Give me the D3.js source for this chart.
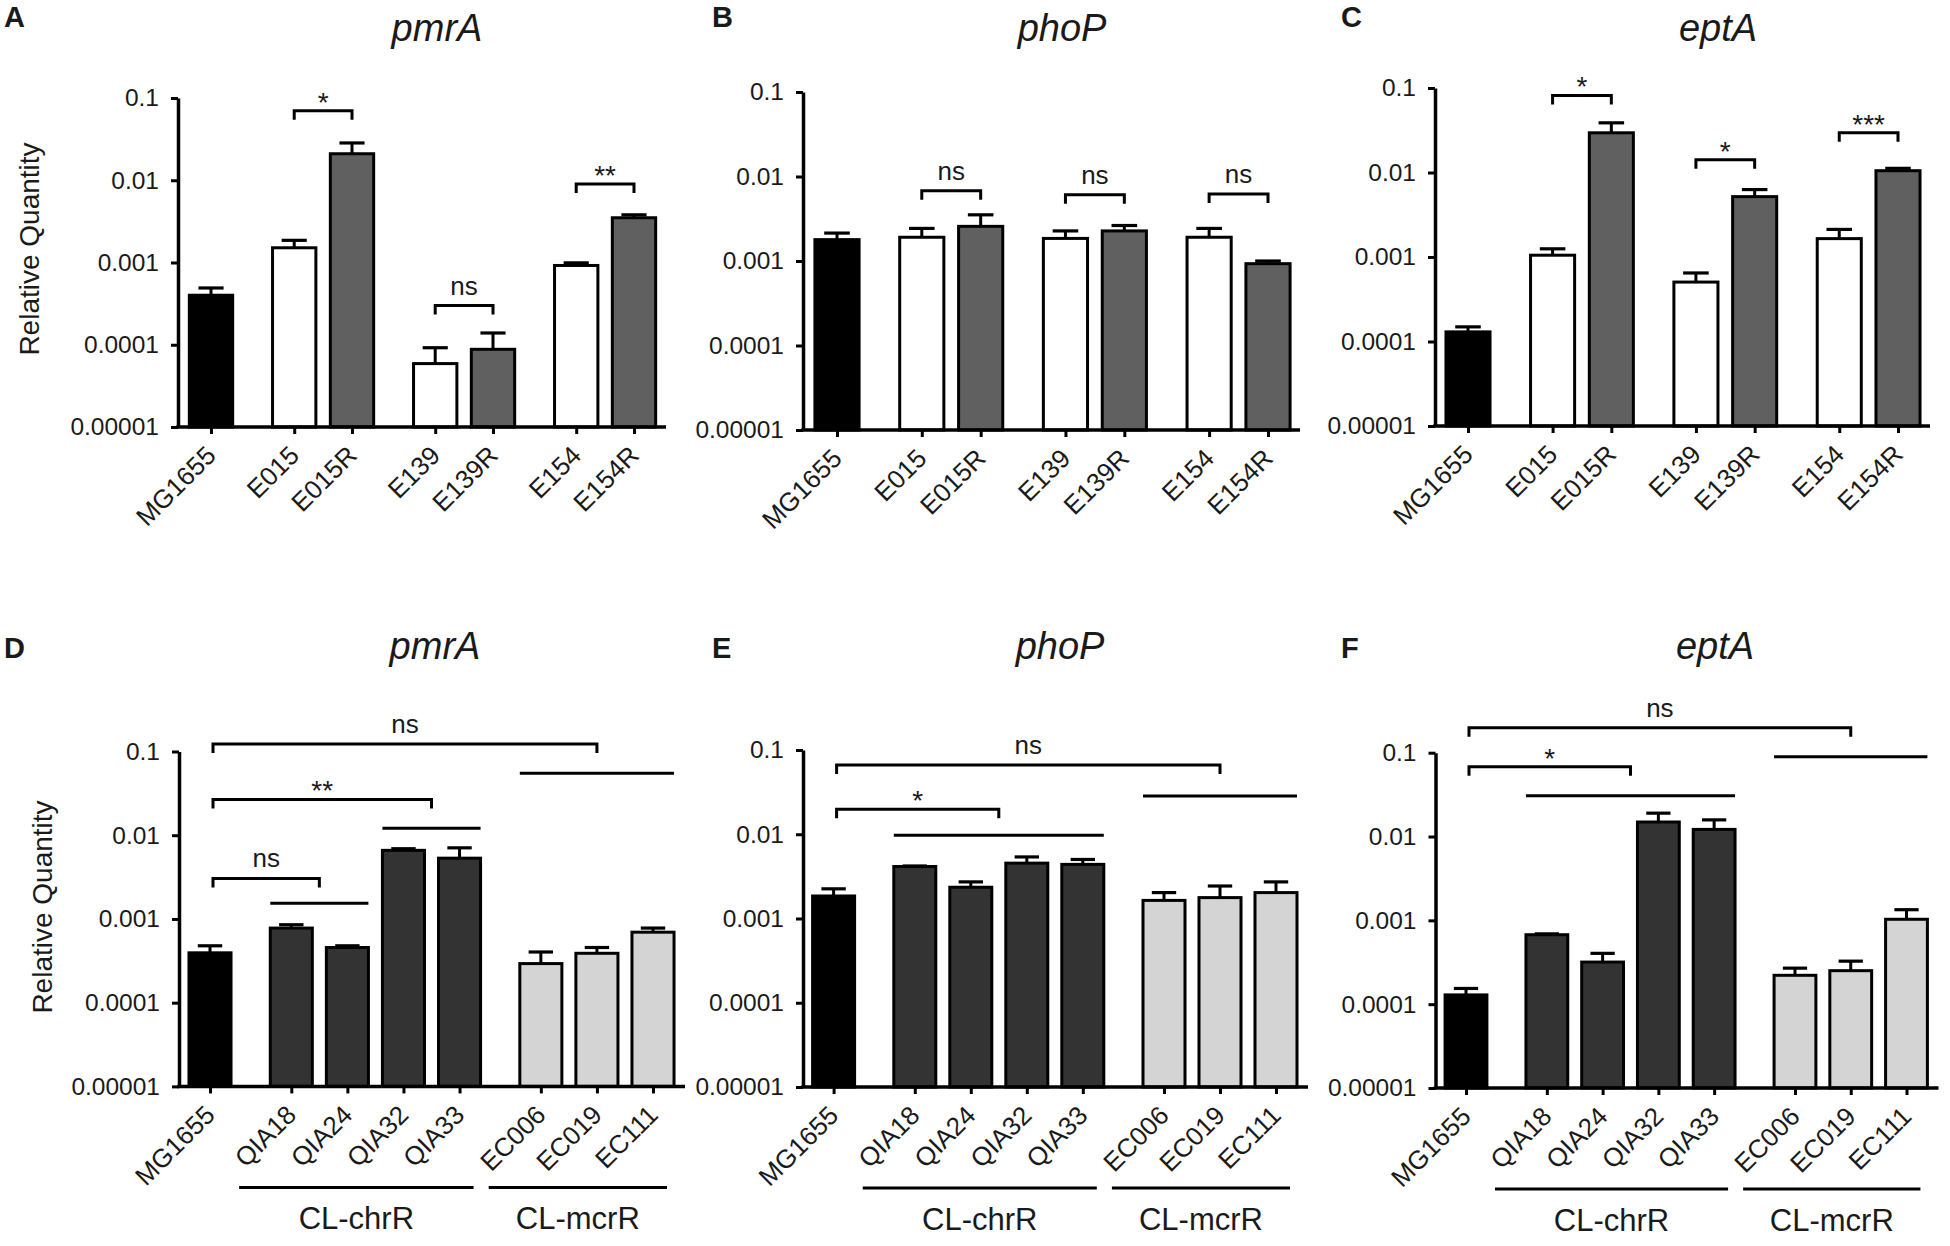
<!DOCTYPE html>
<html>
<head>
<meta charset="utf-8">
<script src="https://cdn.jsdelivr.net/npm/d3@7"></script>
<style>
body { margin: 0; background: #fff; }
text { font-family: "Liberation Sans", Arial, sans-serif; fill: #1a1a1a; }
</style>
</head>
<body>
<svg id="fig" width="1950" height="1246"></svg>
<script>
// ---- data (qPCR relative quantity, mean and mean+SEM) ----
var topStrains = ["MG1655", "E015", "E015R", "E139", "E139R", "E154", "E154R"];
var topGroups  = [0, 1, 1, 2, 2, 3, 3];
var topKinds   = ["ref", "parent", "resistant", "parent", "resistant", "parent", "resistant"];

var botStrains = ["MG1655", "QIA18", "QIA24", "QIA32", "QIA33", "EC006", "EC019", "EC111"];
var botGroups  = [0, 1, 1, 1, 1, 2, 2, 2];
var botKinds   = ["ref", "chr", "chr", "chr", "chr", "mcr", "mcr", "mcr"];
var botClasses = [{ name: "CL-chrR", from: 1, to: 4 }, { name: "CL-mcrR", from: 5, to: 7 }];

var yTicks      = [0.00001, 0.0001, 0.001, 0.01, 0.1];
var yTickLabels = ["0.00001", "0.0001", "0.001", "0.01", "0.1"];

// A  pmrA
var pmrATop    = [0.00040, 0.00151, 0.0210, 0.000059, 0.000088, 0.00092, 0.0035];
var pmrATopErr = [0.00049, 0.00186, 0.0284, 0.000092, 0.000139, 0.00099, 0.0038];
var pmrATopSig = [{ a: 1, b: 2, level: 0.070, label: "*" },
                  { a: 3, b: 4, level: 0.00030, label: "ns" },
                  { a: 5, b: 6, level: 0.0090, label: "**" }];
// B  phoP
var phoPTop    = [0.00179, 0.00191, 0.00257, 0.00185, 0.00227, 0.00191, 0.00093];
var phoPTopErr = [0.00214, 0.00243, 0.00352, 0.00227, 0.00263, 0.00243, 0.00100];
var phoPTopSig = [{ a: 1, b: 2, level: 0.0068, label: "ns" },
                  { a: 3, b: 4, level: 0.0061, label: "ns" },
                  { a: 5, b: 6, level: 0.0062, label: "ns" }];
// C  eptA
var eptATop    = [0.000130, 0.00105, 0.0295, 0.000505, 0.00518, 0.00165, 0.0105];
var eptATopErr = [0.000149, 0.00125, 0.0387, 0.000647, 0.00628, 0.00212, 0.0112];
var eptATopSig = [{ a: 1, b: 2, level: 0.0816, label: "*" },
                  { a: 3, b: 4, level: 0.0142, label: "*" },
                  { a: 5, b: 6, level: 0.0295, label: "***" }];

// D  pmrA
var pmrABot      = [0.000394, 0.000778, 0.000456, 0.0066, 0.00532, 0.000293, 0.000389, 0.000695];
var pmrABotErr   = [0.000478, 0.000853, 0.000478, 0.0069, 0.00707, 0.000403, 0.000456, 0.000778];
var pmrABotSpans = [{ from: 1, to: 2, level: 0.00154 }, { from: 3, to: 4, level: 0.0121 }, { from: 5, to: 7, level: 0.0550 }];
var pmrABotSig   = [{ span: 0, level: 0.00305, label: "ns" },
                    { span: 1, level: 0.0268, label: "**" },
                    { span: 2, level: 0.1227, label: "ns" }];
// E  phoP
var phoPBot      = [0.00185, 0.00414, 0.00235, 0.00454, 0.00439, 0.00164, 0.00177, 0.00203];
var phoPBotErr   = [0.00225, 0.00420, 0.00272, 0.00538, 0.00502, 0.00203, 0.00243, 0.00272];
var phoPBotSpans = [{ from: 1, to: 4, level: 0.0097 }, { from: 5, to: 7, level: 0.0284 }];
var phoPBotSig   = [{ span: 0, level: 0.0198, label: "*" },
                    { span: 1, level: 0.0665, label: "ns" }];
// F  eptA
var eptABot      = [0.000129, 0.000674, 0.000318, 0.0149, 0.01216, 0.000221, 0.000251, 0.00103];
var eptABotErr   = [0.000154, 0.000690, 0.000404, 0.0190, 0.0158, 0.000269, 0.000326, 0.00134];
var eptABotSpans = [{ from: 1, to: 4, level: 0.0306 }, { from: 5, to: 7, level: 0.0893 }];
var eptABotSig   = [{ span: 0, level: 0.0679, label: "*" },
                    { span: 1, level: 0.198, label: "ns" }];

// ---- layout ----
var fills = { ref: "#000000", parent: "#ffffff", resistant: "#606060", chr: "#333333", mcr: "#d4d4d4" };

var panels = [
  { letter: "A", gene: "pmrA", lx: 4,    axisX: 178,  yTop: 98,    yBot: 427,    first: 211,   last: 634,    titleX: 437,  row: 0,
    strains: topStrains, groups: topGroups, kinds: topKinds, values: pmrATop, err: pmrATopErr, sig: pmrATopSig, ylab: [29, 249] },
  { letter: "B", gene: "phoP", lx: 712,  axisX: 803,  yTop: 92,    yBot: 430,    first: 837,   last: 1268,   titleX: 1062, row: 0,
    strains: topStrains, groups: topGroups, kinds: topKinds, values: phoPTop, err: phoPTopErr, sig: phoPTopSig },
  { letter: "C", gene: "eptA", lx: 1341, axisX: 1435, yTop: 88,    yBot: 426,    first: 1468,  last: 1898,   titleX: 1718, row: 0,
    strains: topStrains, groups: topGroups, kinds: topKinds, values: eptATop, err: eptATopErr, sig: eptATopSig },
  { letter: "D", gene: "pmrA", lx: 4,    axisX: 179,  yTop: 751.5, yBot: 1086.4, first: 210,   last: 653,    titleX: 435,  row: 1,
    strains: botStrains, groups: botGroups, kinds: botKinds, values: pmrABot, err: pmrABotErr, spans: pmrABotSpans, sig: pmrABotSig, ylab: [42, 907] },
  { letter: "E", gene: "phoP", lx: 712,  axisX: 803,  yTop: 750,   yBot: 1087,   first: 833.6, last: 1276,   titleX: 1060, row: 1,
    strains: botStrains, groups: botGroups, kinds: botKinds, values: phoPBot, err: phoPBotErr, spans: phoPBotSpans, sig: phoPBotSig },
  { letter: "F", gene: "eptA", lx: 1341, axisX: 1435.5, yTop: 752.7, yBot: 1088, first: 1466, last: 1906.5, titleX: 1715, row: 1,
    strains: botStrains, groups: botGroups, kinds: botKinds, values: eptABot, err: eptABotErr, spans: eptABotSpans, sig: eptABotSig }
];

var svg = d3.select("#fig");
svg.append("rect").attr("width", 1950).attr("height", 1246).attr("fill", "#fff");

panels.forEach(drawPanel);

function drawPanel(p) {
  var g = svg.append("g").attr("class", "panel-" + p.letter);
  var gap = p.row === 0 ? 0.44 : 0.45;
  var slots = p.strains.map(function (s, i) { return i + gap * p.groups[i]; });
  var sMax = slots[slots.length - 1];

  var x = d3.scaleLinear().domain([0, sMax]).range([p.first, p.last]);
  var y = d3.scaleLog().domain([0.00001, 0.1]).range([p.yBot, p.yTop]);
  var unit = (p.last - p.first) / sMax;
  var bw = unit * 0.75;
  var cap = bw * 0.58;
  var ink = "#000";

  // panel letter and title
  var titleY = p.row === 0 ? 41 : 659;
  g.append("text")
    .attr("x", p.lx).attr("y", p.row === 0 ? 27 : 658)
    .attr("font-size", "29px").attr("font-weight", "bold").attr("fill", "#000")
    .text(p.letter);
  g.append("text")
    .attr("x", p.titleX).attr("y", titleY)
    .attr("text-anchor", "middle")
    .attr("font-size", "38px").attr("font-style", "italic")
    .text(p.gene);

  // y label
  if (p.ylab) {
    g.append("text")
      .attr("transform", "translate(" + p.ylab[0] + "," + p.ylab[1] + ") rotate(-90)")
      .attr("text-anchor", "middle")
      .attr("dy", "0.35em")
      .attr("font-size", "28px")
      .text("Relative Quantity");
  }

  // error bars (upper only, the lower half is hidden by the bar)
  var eb = g.append("g").attr("class", "errbars");
  eb.selectAll("line.stem")
      .data(p.values)
    .enter().append("line")
      .attr("class", "stem")
      .attr("x1", function (d, i) { return x(slots[i]); })
      .attr("x2", function (d, i) { return x(slots[i]); })
      .attr("y1", function (d) { return y(d); })
      .attr("y2", function (d, i) { return y(p.err[i]); })
      .attr("stroke", ink).attr("stroke-width", 3);
  eb.selectAll("line.cap")
      .data(p.err)
    .enter().append("line")
      .attr("class", "cap")
      .attr("x1", function (d, i) { return x(slots[i]) - cap / 2; })
      .attr("x2", function (d, i) { return x(slots[i]) + cap / 2; })
      .attr("y1", function (d) { return y(d); })
      .attr("y2", function (d) { return y(d); })
      .attr("stroke", ink).attr("stroke-width", 3.2);

  // bars
  g.selectAll("rect.bar")
      .data(p.values)
    .enter().append("rect")
      .attr("class", "bar")
      .attr("x", function (d, i) { return x(slots[i]) - bw / 2; })
      .attr("y", function (d) { return y(d); })
      .attr("width", bw)
      .attr("height", function (d) { return p.yBot - y(d); })
      .attr("fill", function (d, i) { return fills[p.kinds[i]]; })
      .attr("stroke", ink).attr("stroke-width", 3);

  // y axis
  var ya = g.append("g")
    .attr("transform", "translate(" + p.axisX + ",0)")
    .call(d3.axisLeft(y).tickValues(yTicks)
      .tickFormat(function (d, i) { return yTickLabels[i]; })
      .tickSize(7).tickSizeOuter(0).tickPadding(12));
  ya.select(".domain").attr("stroke", ink).attr("stroke-width", 3.5);
  ya.selectAll(".tick line").attr("stroke", ink).attr("stroke-width", 3);
  ya.selectAll(".tick text").attr("font-size", "24.5px")
    .attr("font-family", "Liberation Sans, Arial, sans-serif").attr("fill", "#1a1a1a");

  // x axis
  var xa = g.append("g")
    .attr("transform", "translate(0," + p.yBot + ")")
    .call(d3.axisBottom(x).tickValues(slots)
      .tickFormat(function (d, i) { return p.strains[i]; })
      .tickSize(7).tickSizeOuter(0));
  xa.select(".domain").remove();
  xa.append("line")
    .attr("x1", p.axisX - 1.75).attr("x2", p.last + 32)
    .attr("y1", 0).attr("y2", 0)
    .attr("stroke", ink).attr("stroke-width", 3.5);
  xa.selectAll(".tick line").attr("stroke", ink).attr("stroke-width", 3);
  xa.selectAll(".tick text")
    .attr("font-size", "26px")
    .attr("font-family", "Liberation Sans, Arial, sans-serif").attr("fill", "#1a1a1a")
    .attr("text-anchor", "end")
    .attr("y", 0).attr("dy", 0)
    .attr("transform", "translate(6,30) rotate(-45)");

  var leg = 9;
  function bracket(x1, x2, lev, label) {
    var yy = y(lev);
    g.append("path")
      .attr("d", "M" + x1 + "," + (yy + leg) + "V" + yy + "H" + x2 + "V" + (yy + leg))
      .attr("fill", "none").attr("stroke", ink).attr("stroke-width", 3);
    g.append("text")
      .attr("x", (x1 + x2) / 2)
      .attr("y", label === "ns" ? yy - 11 : yy + 1)
      .attr("text-anchor", "middle")
      .attr("font-size", label === "ns" ? "26px" : "28px")
      .text(label);
  }

  if (p.row === 0) {
    p.sig.forEach(function (s) { bracket(x(slots[s.a]), x(slots[s.b]), s.level, s.label); });
  } else {
    // horizontal lines over sub-groups
    g.selectAll("line.span")
        .data(p.spans)
      .enter().append("line")
        .attr("class", "span")
        .attr("x1", function (d) { return x(slots[d.from]) - bw / 2; })
        .attr("x2", function (d) { return x(slots[d.to]) + bw / 2; })
        .attr("y1", function (d) { return y(d.level); })
        .attr("y2", function (d) { return y(d.level); })
        .attr("stroke", ink).attr("stroke-width", 3);
    // brackets from the reference strain to the middle of each span
    p.sig.forEach(function (s) {
      var sp = p.spans[s.span];
      var mid = (x(slots[sp.from]) - bw / 2 + x(slots[sp.to]) + bw / 2) / 2;
      bracket(x(slots[0]) + 3, mid, s.level, s.label);
    });
    // class lines and names under the strain labels
    botClasses.forEach(function (c) {
      var x1 = x(slots[c.from]) - unit * 0.93;
      var x2 = x(slots[c.to]) + unit * 0.25;
      g.append("line")
        .attr("x1", x1).attr("x2", x2)
        .attr("y1", p.yBot + 101).attr("y2", p.yBot + 101)
        .attr("stroke", ink).attr("stroke-width", 3);
      g.append("text")
        .attr("x", (x1 + x2) / 2).attr("y", p.yBot + 143)
        .attr("text-anchor", "middle")
        .attr("font-size", "31px")
        .text(c.name);
    });
  }
}
</script>
</body>
</html>
